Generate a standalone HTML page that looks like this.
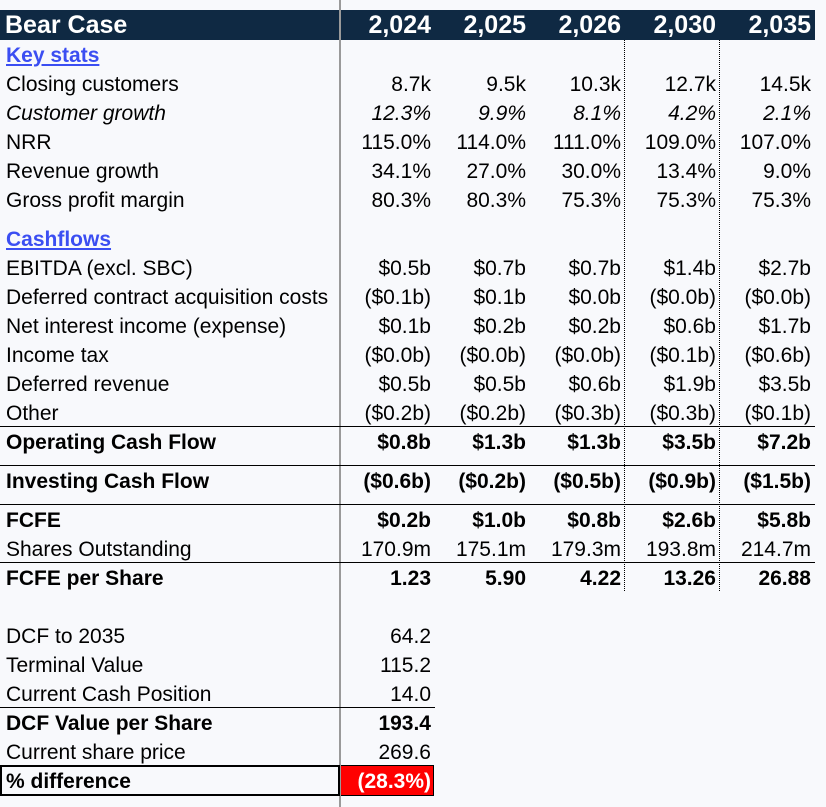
<!DOCTYPE html>
<html><head><meta charset="utf-8"><style>
body{margin:0;width:826px;height:807px;background:#f8f9fc;position:relative;overflow:hidden;font-family:"Liberation Sans",Arial,sans-serif;font-size:21px;color:#000}
.r{position:absolute;left:0;width:826px;height:29px;line-height:29px}
.l{position:absolute;left:6px;white-space:nowrap}
.v{position:absolute;text-align:right;width:95px;white-space:nowrap}
.b{font-weight:bold}.i{font-style:italic}
.sec{color:#3b4ef2;font-weight:bold;text-decoration:underline}
.hl{position:absolute;left:0;width:815px;height:1px;background:#000}
</style></head><body>
<div style="position:absolute;left:0;top:10px;width:815px;height:30px;background:#0f2943"></div>
<div style="position:absolute;left:339px;top:0;width:2px;height:807px;background:#9a9a9a"></div>
<div style="position:absolute;left:624px;top:40px;height:551px;border-left:1px dotted #000"></div>
<div style="position:absolute;left:719px;top:40px;height:551px;border-left:1px dotted #000"></div>
<div class="hl" style="top:426px"></div>
<div class="hl" style="top:465px"></div>
<div class="hl" style="top:504px"></div>
<div class="hl" style="top:562px"></div>
<div style="position:absolute;left:0;top:707px;width:435px;height:1px;background:#000"></div>
<div style="position:absolute;left:0;top:765px;width:336px;height:27px;border:2px solid #000"></div>
<div style="position:absolute;left:341px;top:765px;width:92px;height:29px;background:#ff0000;border:1px solid #000;border-left:none"></div>
<div id="t"></div>
<script>
const labels=["Key stats","Closing customers","Customer growth","NRR","Revenue growth","Gross profit margin","Cashflows","EBITDA (excl. SBC)","Deferred contract acquisition costs","Net interest income (expense)","Income tax","Deferred revenue","Other","Operating Cash Flow","Investing Cash Flow","FCFE","Shares Outstanding","FCFE per Share","DCF to 2035","Terminal Value","Current Cash Position","DCF Value per Share","Current share price","% difference"];
const centers=[55,84,113,142,171,200,239,268,297,326,355,384,413,442,481,520,549,578,636,665,694,723,752,781];
const styles=["sec","","i","","","","sec","","","","","","","b","b","b","","b","","","","b","","b"];
const years=["2,024","2,025","2,026","2,030","2,035"];
const values=[[],["8.7k","9.5k","10.3k","12.7k","14.5k"],["12.3%","9.9%","8.1%","4.2%","2.1%"],["115.0%","114.0%","111.0%","109.0%","107.0%"],["34.1%","27.0%","30.0%","13.4%","9.0%"],["80.3%","80.3%","75.3%","75.3%","75.3%"],[],["$0.5b","$0.7b","$0.7b","$1.4b","$2.7b"],["($0.1b)","$0.1b","$0.0b","($0.0b)","($0.0b)"],["$0.1b","$0.2b","$0.2b","$0.6b","$1.7b"],["($0.0b)","($0.0b)","($0.0b)","($0.1b)","($0.6b)"],["$0.5b","$0.5b","$0.6b","$1.9b","$3.5b"],["($0.2b)","($0.2b)","($0.3b)","($0.3b)","($0.1b)"],["$0.8b","$1.3b","$1.3b","$3.5b","$7.2b"],["($0.6b)","($0.2b)","($0.5b)","($0.9b)","($1.5b)"],["$0.2b","$1.0b","$0.8b","$2.6b","$5.8b"],["170.9m","175.1m","179.3m","193.8m","214.7m"],["1.23","5.90","4.22","13.26","26.88"],["64.2"],["115.2"],["14.0"],["193.4"],["269.6"],["(28.3%)"]];
const rights=[431,526,621,716,811];
const t=document.getElementById('t');
function cell(row,txt,x,name,cls,extra){const d=document.createElement('div');d.className='v '+cls;d.style.left=(x-95)+'px';d.textContent=txt;if(extra)d.style.cssText+=extra;


row.appendChild(d);}
const h=document.createElement('div');h.className='r b';h.style.top='10px';h.style.height='30px';h.style.lineHeight='30px';h.style.color='#fff';h.style.fontSize='25px';


const hl=document.createElement('div');hl.className='l';hl.style.left='5px';hl.textContent='Bear Case';


h.appendChild(hl);
years.forEach((y,j)=>cell(h,y,rights[j],'year-header-'+j,'',''));
t.appendChild(h);
labels.forEach((lab,i)=>{const r=document.createElement('div');r.className='r '+(styles[i]==='sec'?'':styles[i]);r.style.top=(centers[i]-14.5)+'px';


const l=document.createElement('div');l.className='l'+(styles[i]==='sec'?' sec':'');l.textContent=lab;


r.appendChild(l);
values[i].forEach((v,j)=>cell(r,v,rights[j],'value-'+i+'-'+j,'',i===23?'color:#fff':''));
t.appendChild(r);});
</script>
</body></html>
